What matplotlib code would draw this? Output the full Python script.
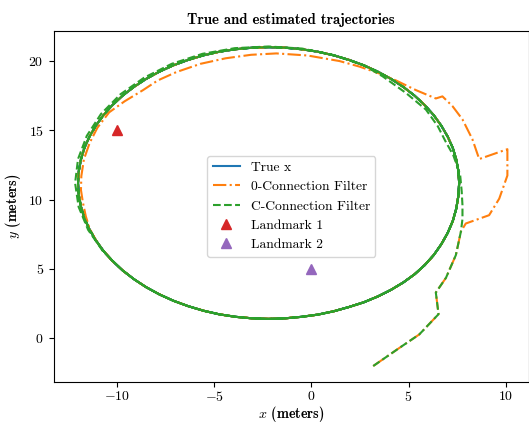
import numpy as np
import matplotlib
matplotlib.use("Agg")
import matplotlib.pyplot as plt

plt.rcParams['font.family'] = 'serif'
plt.rcParams['font.serif'] = ['cmr10']
plt.rcParams['mathtext.fontset'] = 'cm'
plt.rcParams['axes.formatter.use_mathtext'] = True
plt.rcParams['axes.unicode_minus'] = True

# One lap of the true trajectory (counter-clockwise, every 5 degrees from the rightmost point)
lap_x = [7.60, 7.56, 7.45, 7.27, 7.01, 6.68, 6.29, 5.83, 5.31, 4.73, 4.10, 3.42,
         2.70, 1.94, 1.15, 0.34, -0.50, -1.35, -2.20, -3.05, -3.90, -4.74, -5.55, -6.34,
         -7.10, -7.82, -8.50, -9.13, -9.71, -10.23, -10.69, -11.08, -11.41, -11.67, -11.85, -11.96,
         -12.00, -11.96, -11.85, -11.67, -11.41, -11.08, -10.69, -10.23, -9.71, -9.13, -8.50, -7.82,
         -7.10, -6.34, -5.55, -4.74, -3.90, -3.05, -2.20, -1.35, -0.50, 0.34, 1.15, 1.94,
         2.70, 3.42, 4.10, 4.73, 5.31, 5.83, 6.29, 6.68, 7.01, 7.27, 7.45, 7.56]
lap_y = [11.20, 12.06, 12.90, 13.74, 14.55, 15.34, 16.10, 16.82, 17.50, 18.13, 18.71, 19.23,
         19.69, 20.08, 20.41, 20.67, 20.85, 20.96, 21.00, 20.96, 20.85, 20.67, 20.41, 20.08,
         19.69, 19.23, 18.71, 18.13, 17.50, 16.82, 16.10, 15.34, 14.55, 13.74, 12.90, 12.06,
         11.20, 10.34, 9.50, 8.66, 7.85, 7.06, 6.30, 5.58, 4.90, 4.27, 3.69, 3.17,
         2.71, 2.32, 1.99, 1.73, 1.55, 1.44, 1.40, 1.44, 1.55, 1.71, 1.95, 2.26,
         2.60, 3.02, 3.50, 4.03, 4.62, 5.28, 6.00, 6.78, 7.60, 8.45, 9.35, 10.28]

# 0-Connection filter: transient part before it joins the true trajectory
o_trans_x = [3.18, 4.52, 5.55, 6.54, 6.40, 6.92, 7.43, 7.69, 7.94, 9.14, 9.66, 10.08,
             10.08, 8.63, 8.28, 7.77, 7.26, 6.74, 6.40, 5.38, 4.35, 3.50, 2.47, 1.44,
             -0.20, -1.80, -3.10, -4.40, -5.70, -6.95, -7.90, -8.66, -9.60, -10.40,
             -11.00, -11.40, -11.70, -11.83, -11.85, -11.75, -11.60, -11.40]
o_trans_y = [-2.00, -0.70, 0.28, 1.74, 3.30, 4.36, 6.00, 7.70, 8.28, 8.88, 10.07, 11.74,
             13.64, 12.93, 14.36, 15.79, 16.74, 17.45, 17.30, 17.90, 18.60, 19.10, 19.60,
             20.00, 20.40, 20.55, 20.45, 20.20, 19.80, 19.20, 18.60, 17.90, 17.10, 16.30,
             15.20, 14.10, 12.90, 11.70, 10.70, 9.80, 8.80, 7.90]

# C-Connection filter: transient part and slightly wider first lap
c_trans_x = [3.18, 4.52, 5.55, 6.54, 6.40, 6.92, 7.43, 7.69, 7.77, 7.77, 7.73, 7.65,
             7.30, 6.90, 6.50, 5.89, 4.86, 3.66, 2.70, 1.17, -0.48, -2.20, -3.93, -5.60,
             -7.18, -8.60, -9.82, -10.82, -11.55, -12.00, -12.15, -11.97, -11.48, -10.72]
c_trans_y = [-2.00, -0.70, 0.28, 1.74, 3.30, 4.36, 6.00, 7.70, 8.60, 9.60, 10.60, 11.80,
             13.20, 14.20, 15.30, 16.50, 17.70, 18.90, 19.69, 20.42, 20.90, 21.05, 20.93,
             20.52, 19.80, 18.80, 17.60, 16.18, 14.60, 12.93, 11.20, 9.48, 7.82, 6.28]

landmark1 = (-10.0, 15.0)
landmark2 = (0.0, 5.0)

n = len(lap_x)


def laps(start, count):
    idx = [(start + k) % n for k in range(count)]
    return [lap_x[i] for i in idx], [lap_y[i] for i in idx]


tx, ty = laps(58, 3 * n + 16)
ox, oy = laps(41, 2 * n + 32)
cx, cy = laps(44, 2 * n + 32)
o_x = o_trans_x + ox
o_y = o_trans_y + oy
c_x = c_trans_x + cx
c_y = c_trans_y + cy

fig = plt.figure(figsize=(5.29, 4.24), dpi=100)
ax = fig.add_axes([53.5 / 529, 42 / 424, 475.5 / 529, 351.5 / 424])

ax.plot(tx, ty, color='C0', lw=1.5, label='True x')
ax.plot(o_x, o_y, color='C1', lw=1.5, ls='-.', label='0-Connection Filter')
ax.plot(c_x, c_y, color='C2', lw=1.5, ls='--', label='C-Connection Filter')
ax.plot([landmark1[0]], [landmark1[1]], ls='none', marker='^', color='C3', ms=7,
        label='Landmark 1')
ax.plot([landmark2[0]], [landmark2[1]], ls='none', marker='^', color='C4', ms=7,
        label='Landmark 2')

ax.set_title('True and estimated trajectories', fontfamily='cmb10', fontsize=10.7, pad=5)
ax.set_xlabel(r'$x$ (meters)', fontfamily='cmb10', fontsize=10.2, labelpad=-0.5)
ax.set_ylabel(r'$y$ (meters)', fontfamily='cmb10', fontsize=10.2, labelpad=4)
ax.tick_params(labelsize=10)
ax.tick_params(axis='x', pad=2.5)
ax.legend(loc='center', fontsize=9.8)

fig.savefig('out.png', dpi=100)
